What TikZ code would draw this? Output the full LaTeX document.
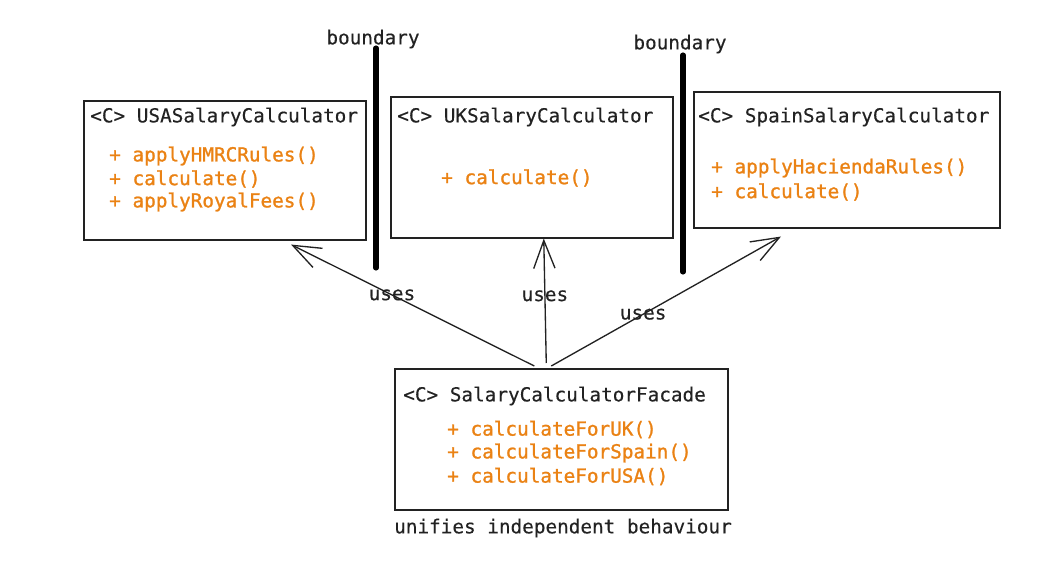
\documentclass[tikz,border=0pt]{standalone}
\usepackage{fontspec}
\setmonofont[FakeBold = 0.3]{DejaVu Sans Mono}
\newfontfamily\methodmono[FakeBold = 1.2]{DejaVu Sans Mono}
\usetikzlibrary{arrows.meta, calc}

\definecolor{methodorange}{RGB}{234,130,20}
\definecolor{inkgray}{RGB}{34,34,34}

\tikzset{
    classbox/.style = {draw = inkgray, line width = 1.15pt, anchor = north west, inner sep = 0pt},
    classname/.style = {anchor = west, inner sep = 0pt, text = inkgray},
    method/.style = {anchor = west, inner sep = 0pt, text = methodorange, font = \methodmono\fontsize{14.5}{17}\selectfont},
    uses/.style = {draw = inkgray, line width = 1pt, -{Straight Barb[length = 21pt, width = 16pt, line width = 1pt]}},
    boundary/.style = {line width = 3.8pt, line cap = round}
}

\begin{document}
\begin{tikzpicture}[x = 0.75pt, y = -0.75pt, font = \ttfamily\fontsize{14.5}{17}\selectfont]
    \useasboundingbox (0,0) rectangle (1054,563);

    % class boxes
    \node (usa) [classbox, minimum width = 282*0.75pt, minimum height = 139*0.75pt] at (83,100) {};
    \node (uk) [classbox, minimum width = 282*0.75pt, minimum height = 141*0.75pt] at (390,96) {};
    \node (spain) [classbox, minimum width = 306*0.75pt, minimum height = 136*0.75pt] at (693,91) {};
    \node (facade) [classbox, minimum width = 333*0.75pt, minimum height = 141*0.75pt] at (394,368) {};

    \node (usa-name) [classname] at (90,117) {<C> USASalaryCalculator};
    \node (uk-name) [classname] at (397,117) {<C> UKSalaryCalculator};
    \node (spain-name) [classname] at (698,117) {<C> SpainSalaryCalculator};
    \node (facade-name) [classname] at (403,396) {<C> SalaryCalculatorFacade};

    % methods
    \foreach \m [count = \i] in {applyHMRCRules(), calculate(), applyRoyalFees()}
    {
        \node (usa-m\i) [method] at (109, 133 + 23*\i) {+ \m};
    }
    \node (uk-m1) [method] at (441,178) {+ calculate()};
    \foreach \m [count = \i] in {applyHaciendaRules(), calculate()}
    {
        \node (spain-m\i) [method] at (711, 144 + 24*\i) {+ \m};
    }
    \foreach \m [count = \i] in {calculateForUK(), calculateForSpain(), calculateForUSA()}
    {
        \node (facade-m\i) [method] at (447, 406 + 23.5*\i) {+ \m};
    }

    % boundaries
    \node (bnd-left) [text = inkgray] at (373,39) {boundary};
    \draw [boundary] (376,48) -- (376,268);
    \node (bnd-right) [text = inkgray] at (680,44) {boundary};
    \draw [boundary] (683,55) -- (683,272);

    % dependencies
    \draw [uses] ($(facade.north) + (-27,-2)$) -- node [pos = 0.585, inner sep = 0pt, text = inkgray] (uses-usa) {uses} ($(usa.south west) + (208,4)$);
    \draw [uses] ($(facade.north) + (-15,-5)$) -- node [pos = 0.54, inner sep = 0pt, text = inkgray] (uses-uk) {uses} ($(uk.south) + (12,0)$);
    \draw [uses] ($(facade.north) + (-10,-2)$) -- node [pos = 0.40, inner sep = 0pt, text = inkgray] (uses-spain) {uses} ($(spain.south west) + (88,8)$);

    \node (caption) [text = inkgray] at (563,528) {unifies independent behaviour};
\end{tikzpicture}
\end{document}
